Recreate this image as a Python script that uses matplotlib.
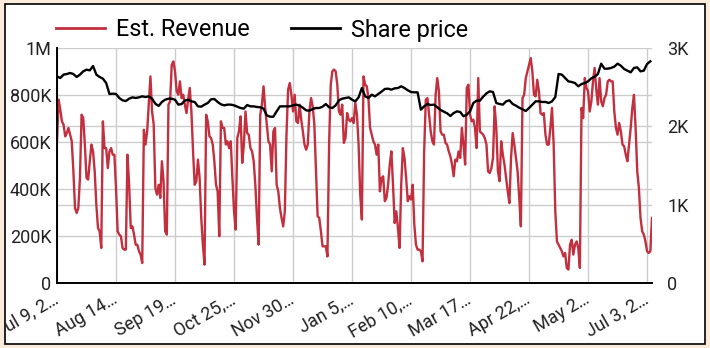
import numpy as np
import pandas as pd
import matplotlib
matplotlib.use("Agg")
import matplotlib.pyplot as plt
from matplotlib.lines import Line2D
from matplotlib.patches import Rectangle
from matplotlib.transforms import Bbox, TransformedBbox

plt.rcParams['font.family'] = ['Roboto', 'DejaVu Sans']

# daily estimated revenue (thousands), starting Jul 9, 2023
start = '2023-07-09'
revenue_k = [
    603, 780, 738, 688, 674, 624, 638, 660, 631, 603,
    475, 319, 298, 319, 447, 716, 702, 589, 447, 440,
    518, 589, 560, 475, 333, 234, 220, 149, 688, 574,
    574, 489, 560, 574, 546, 546, 404, 220, 206, 199,
    149, 142, 142, 546, 418, 234, 241, 206, 163, 163,
    135, 121, 85, 652, 589, 645, 759, 879, 730, 674,
    404, 376, 418, 362, 518, 433, 220, 206, 759, 773,
    929, 943, 901, 816, 801, 858, 787, 801, 759, 723,
    780, 830, 730, 560, 418, 433, 525, 447, 277, 163,
    78, 716, 688, 624, 617, 589, 518, 418, 390, 199,
    688, 660, 660, 589, 603, 574, 603, 447, 305, 227,
    617, 645, 709, 511, 589, 730, 638, 631, 574, 560,
    518, 418, 277, 163, 716, 759, 837, 745, 674, 603,
    589, 475, 645, 660, 418, 390, 319, 277, 241, 305,
    631, 823, 851, 801, 730, 801, 688, 681, 759, 695,
    645, 589, 567, 589, 730, 787, 752, 674, 475, 284,
    277, 220, 156, 156, 156, 113, 589, 844, 901, 908,
    901, 844, 730, 716, 759, 596, 617, 723, 695, 688,
    702, 681, 766, 716, 589, 376, 270, 879, 844, 837,
    787, 660, 631, 603, 589, 546, 589, 390, 447, 454,
    348, 362, 418, 504, 560, 418, 255, 305, 234, 149,
    418, 574, 532, 447, 348, 369, 355, 418, 248, 163,
    142, 142, 135, 92, 560, 780, 787, 716, 645, 603,
    589, 801, 872, 816, 645, 631, 631, 596, 589, 560,
    539, 504, 454, 525, 518, 560, 532, 660, 589, 504,
    830, 844, 716, 688, 695, 660, 574, 872, 645, 638,
    631, 617, 589, 475, 468, 489, 532, 752, 660, 475,
    433, 603, 546, 504, 447, 390, 340, 532, 638, 589,
    532, 475, 362, 241, 787, 801, 872, 901, 929, 957,
    901, 801, 794, 865, 816, 723, 716, 723, 631, 589,
    589, 660, 745, 589, 305, 177, 163, 149, 135, 113,
    128, 64, 57, 163, 184, 121, 163, 177, 149, 64,
    745, 702, 872, 830, 816, 730, 773, 858, 915, 823,
    759, 872, 773, 752, 787, 801, 858, 865, 858, 858,
    730, 660, 631, 681, 645, 589, 582, 546, 518, 589,
    660, 745, 801, 660, 475, 404, 277, 220, 206, 177,
    135, 128, 135, 277,
]

# share price, every second day
share_price = [
    2638, 2617, 2660, 2668, 2681, 2668, 2630, 2660, 2702, 2723,
    2715, 2770, 2660, 2630, 2609, 2553, 2413, 2417, 2413, 2362,
    2332, 2323, 2353, 2370, 2362, 2370, 2383, 2374, 2383, 2353,
    2289, 2260, 2311, 2340, 2353, 2353, 2340, 2277, 2285, 2328,
    2340, 2319, 2311, 2255, 2251, 2277,
    2298, 2345, 2349, 2311, 2281, 2268, 2277, 2277, 2268, 2251,
    2234, 2226, 2272, 2255, 2255, 2247, 2243, 2226, 2140, 2123,
    2123, 2191, 2255, 2255, 2255, 2255, 2268, 2277, 2264, 2238,
    2204, 2200, 2221, 2234, 2234, 2251, 2285, 2243, 2234, 2268,
    2332, 2353, 2362, 2370,
    2340, 2319, 2370, 2489, 2383, 2362, 2404, 2383, 2413, 2443,
    2477, 2481, 2468, 2485, 2489, 2511, 2489, 2460, 2438, 2434,
    2434, 2213, 2255, 2285, 2272, 2277, 2243, 2209, 2187, 2166,
    2132, 2170, 2191, 2183, 2128, 2149, 2191, 2298, 2328, 2328,
    2379, 2421, 2447, 2438, 2298, 2285,
    2277, 2319, 2332, 2285, 2264, 2238, 2217, 2196, 2234, 2277,
    2319, 2319, 2311, 2311, 2298, 2319, 2374, 2668, 2660, 2617,
    2574, 2566, 2553, 2511, 2540, 2553, 2574, 2613, 2634, 2668,
    2800, 2736, 2736, 2745, 2762, 2800, 2774, 2732, 2711, 2689,
    2745, 2753, 2702, 2711, 2796, 2830,
]

tick_dates = ['2023-07-09', '2023-08-14', '2023-09-19', '2023-10-25',
              '2023-11-30', '2024-01-05', '2024-02-10', '2024-03-17',
              '2024-04-22', '2024-05-28', '2024-07-03']
tick_labels = ['Jul 9, 2…', 'Aug 14…', 'Sep 19…', 'Oct 25,…', 'Nov 30…',
               'Jan 5,…', 'Feb 10,…', 'Mar 17…', 'Apr 22,…', 'May 2…',
               'Jul 3, 2…']
rev_ticks = [0, 200000, 400000, 600000, 800000, 1000000]
rev_tick_labels = ['0', '200K', '400K', '600K', '800K', '1M']
price_ticks = [0, 1000, 2000, 3000]
price_tick_labels = ['0', '1K', '2K', '3K']

red = '#c2303f'
grid = '#cccccc'

rev_dates = pd.date_range(start, periods=len(revenue_k), freq='D')
price_dates = pd.date_range(start, periods=len(share_price), freq='2D')

W, H = 710, 348
fig = plt.figure(figsize=(W / 100, H / 100), dpi=100, facecolor='#fcebda')
card = Rectangle((5 / W, 4 / H), 700 / W, 340 / H, transform=fig.transFigure,
                 facecolor='white', edgecolor='black', linewidth=1.2, zorder=-1)
fig.patches.append(card)

ax = fig.add_axes([57 / W, 65 / H, 595 / W, 235 / H])
ax.set_facecolor('none')
ax.plot(rev_dates, np.array(revenue_k) * 1000, color=red, lw=1.7)
ax.set_ylim(0, 1000000)
ax.set_xlim(pd.Timestamp('2023-07-09'), rev_dates[-1])
ax.set_yticks(rev_ticks)
ax.set_yticklabels(rev_tick_labels)
# gridlines of the right axis, drawn on the left one
ax.set_yticks([1000000 / 3, 2000000 / 3], minor=True)
ax.grid(which='both', axis='y', color=grid, lw=1)
ax.grid(which='major', axis='x', color=grid, lw=1)
ax.set_axisbelow(True)
ax.tick_params(which='both', length=0, labelsize=13, colors='#222222')
ax.tick_params(axis='y', pad=4)
for s in ['top', 'right']:
    ax.spines[s].set_visible(False)
for s in ['left', 'bottom']:
    ax.spines[s].set_color('black')
    ax.spines[s].set_linewidth(1.4)
    ax.spines[s].set_zorder(5)

ax.set_xticks(pd.to_datetime(tick_dates))
ax.set_xticklabels(tick_labels, rotation=30, ha='right', va='center',
                   rotation_mode='anchor')
ax.tick_params(axis='x', pad=11)
clip = TransformedBbox(Bbox([[5 / W, 4 / H], [705 / W, 344 / H]]), fig.transFigure)
for lbl in ax.get_xticklabels():
    lbl.set_clip_box(clip)
    lbl.set_clip_on(True)

ax2 = ax.twinx()
ax2.plot(price_dates, share_price, color='black', lw=1.7)
ax2.set_ylim(0, 3000)
ax2.set_yticks(price_ticks)
ax2.set_yticklabels(price_tick_labels)
ax2.tick_params(length=0, labelsize=13, pad=11, colors='#222222')
for s in ax2.spines.values():
    s.set_visible(False)

handles = [Line2D([], [], color=red, lw=2), Line2D([], [], color='black', lw=2)]
fig.legend(handles, ['Est. Revenue', 'Share price'], loc='center left',
           bbox_to_anchor=(56 / W, 1 - 30 / H), ncol=2, frameon=False,
           fontsize=16.8, handlelength=2.1, handletextpad=0.45,
           columnspacing=1.8, borderpad=0, borderaxespad=0)

fig.savefig('out.png', dpi=100, facecolor=fig.get_facecolor())
